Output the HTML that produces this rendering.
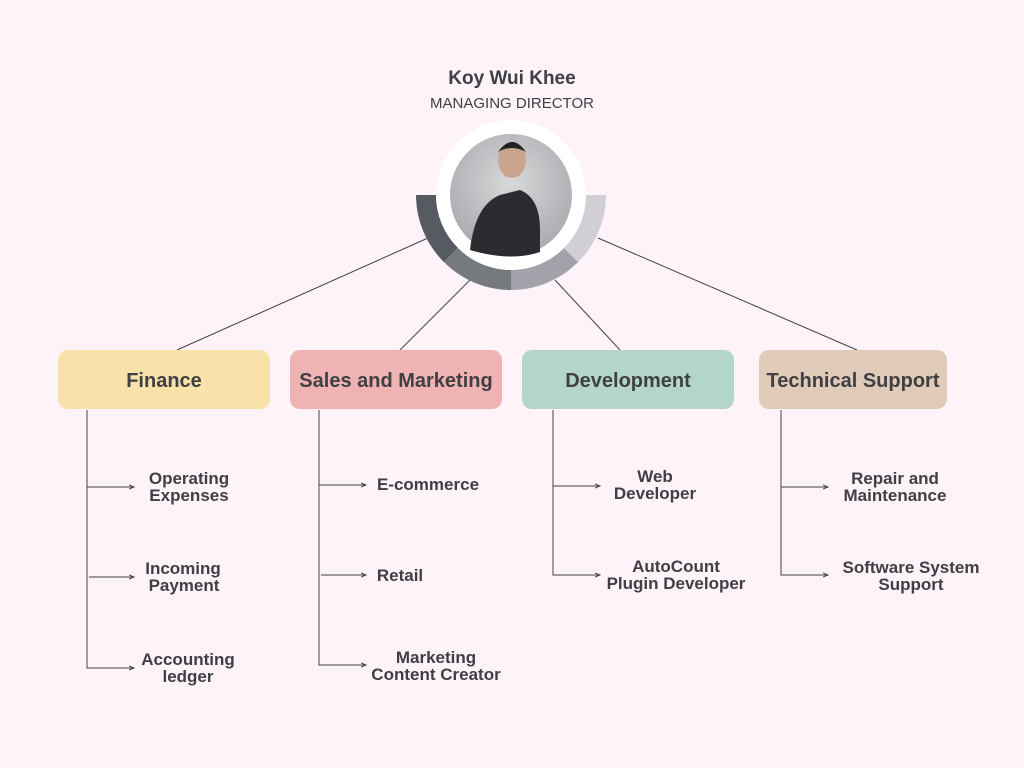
<!DOCTYPE html>
<html><head><style>
body{margin:0;background:#fdf3f9;}
svg{display:block}
text{font-family:"Liberation Sans",sans-serif;fill:#3f3f44}
.b{font-weight:bold;font-size:20px;text-anchor:middle}
.s{font-weight:bold;font-size:17px;text-anchor:middle}
</style></head><body>
<svg width="1024" height="768" viewBox="0 0 1024 768">
<rect width="1024" height="768" fill="#fdf3f9"/>
<text x="512" y="84" style="font-weight:bold;font-size:19px;text-anchor:middle">Koy Wui Khee</text>
<text x="512" y="108" style="font-size:15px;text-anchor:middle">MANAGING DIRECTOR</text>
<g stroke="#444" stroke-width="1" fill="none">
<line x1="428" y1="238" x2="177" y2="350"/>
<line x1="470" y1="280" x2="400" y2="350"/>
<line x1="555" y1="280" x2="620" y2="350"/>
<line x1="598" y1="238" x2="857" y2="350"/>
</g>
<g fill="none" stroke-width="20">
<path d="M426 195 A85 85 0 0 0 451 255" stroke="#565b61"/>
<path d="M451 255 A85 85 0 0 0 511 280" stroke="#76797e"/>
<path d="M511 280 A85 85 0 0 0 571 255" stroke="#a3a2aa"/>
<path d="M571 255 A85 85 0 0 0 596 195" stroke="#d1cfd5"/>
</g>
<circle cx="511" cy="195" r="75" fill="#fff"/>
<defs><radialGradient id="g" cx="0.5" cy="0.4" r="0.6"><stop offset="0" stop-color="#d8d9db"/><stop offset="1" stop-color="#a9abae"/></radialGradient></defs>
<circle cx="511" cy="195" r="61" fill="url(#g)"/>
<path d="M470 250 Q475 205 500 195 L520 190 Q540 198 540 230 L540 252 Q511 262 470 250Z" fill="#2b2b30"/>
<ellipse cx="512" cy="160" rx="14" ry="18" fill="#c9a58e"/>
<path d="M498 152 Q512 132 526 152 Q512 144 498 152Z" fill="#222"/>
<rect x="58" y="350" width="212" height="59" rx="10" fill="#f8e2a9"/>
<rect x="290" y="350" width="212" height="59" rx="10" fill="#f0b3b3"/>
<rect x="522" y="350" width="212" height="59" rx="10" fill="#b3d6c8"/>
<rect x="759" y="350" width="188" height="59" rx="10" fill="#dfcbb8"/>
<text class="b" x="164" y="387">Finance</text>
<text class="b" x="396" y="387">Sales and Marketing</text>
<text class="b" x="628" y="387">Development</text>
<text class="b" x="853" y="387">Technical Support</text>
<defs><marker id="a" markerWidth="6" markerHeight="6" refX="5" refY="3" orient="auto"><path d="M0 1 L5 3 L0 5" fill="none" stroke="#444" stroke-width="1"/></marker></defs>
<g stroke="#444" stroke-width="1" fill="none">
<polyline points="87,410 87,668 134,668" marker-end="url(#a)"/>
<line x1="87" y1="487" x2="134" y2="487" marker-end="url(#a)"/>
<line x1="89" y1="577" x2="134" y2="577" marker-end="url(#a)"/>
<polyline points="319,410 319,665 366,665" marker-end="url(#a)"/>
<line x1="319" y1="485" x2="366" y2="485" marker-end="url(#a)"/>
<line x1="321" y1="575" x2="366" y2="575" marker-end="url(#a)"/>
<polyline points="553,410 553,575 600,575" marker-end="url(#a)"/>
<line x1="553" y1="486" x2="600" y2="486" marker-end="url(#a)"/>
<polyline points="781,410 781,575 828,575" marker-end="url(#a)"/>
<line x1="781" y1="487" x2="828" y2="487" marker-end="url(#a)"/>
</g>
<text class="s" x="189" y="484">Operating</text><text class="s" x="189" y="501">Expenses</text>
<text class="s" x="183" y="574">Incoming</text><text class="s" x="184" y="591">Payment</text>
<text class="s" x="188" y="665">Accounting</text><text class="s" x="188" y="682">ledger</text>
<text class="s" x="428" y="490">E-commerce</text>
<text class="s" x="400" y="581">Retail</text>
<text class="s" x="436" y="663">Marketing</text><text class="s" x="436" y="680">Content Creator</text>
<text class="s" x="655" y="482">Web</text><text class="s" x="655" y="499">Developer</text>
<text class="s" x="676" y="572">AutoCount</text><text class="s" x="676" y="589">Plugin Developer</text>
<text class="s" x="895" y="484">Repair and</text><text class="s" x="895" y="501">Maintenance</text>
<text class="s" x="911" y="573">Software System</text><text class="s" x="911" y="590">Support</text>
</svg>
</body></html>
